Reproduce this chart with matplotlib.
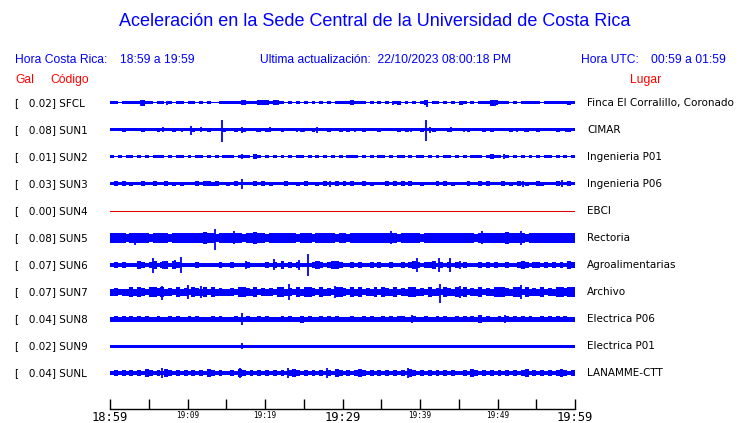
import numpy as np
import matplotlib
matplotlib.use('Agg')
from matplotlib import pyplot as plt
from matplotlib.transforms import blended_transform_factory

############# Data ############
codes = ['SFCL', 'SUN1', 'SUN2', 'SUN3', 'SUN4', 'SUN5',
         'SUN6', 'SUN7', 'SUN8', 'SUN9', 'SUNL']
gal = [0.02, 0.08, 0.01, 0.03, 0.00, 0.08, 0.07, 0.07, 0.04, 0.02, 0.04]
places = ['Finca El Corralillo, Coronado', 'CIMAR', 'Ingenieria P01',
          'Ingenieria P06', 'EBCI', 'Rectoria', 'Agroalimentarias',
          'Archivo', 'Electrica P06', 'Electrica P01', 'LANAMME-CTT']

# trace envelope, one hex digit per half minute,
# value = half thickness in half pixels
envelopes = [
    '3313333363 3133131331 3313131133 3333533355 5353313131 3131313133 '
    '3353331313 1313413131 3513313131 4313133365 3331313333 3133333343',
    '3334333343 3343334333 3433343334 3343433343 4333433334 3343334334 '
    '3433343334 3333434333 4334333433 3343334343 3334333433 4333343343',
    '3131331313 1333131331 3133131313 3313331531 3131313133 1313131313 '
    '1333131313 3131331313 3131313313 1313331353 3131313131 3133131313',
    '3535343353 3533534343 3353554533 4353333535 3433353343 5334353353 '
    '5353353433 3535353533 4333535343 3353353533 3534353433 5433353353',
    '',
    '9a9b899ba9 8ba9a89aab 9ab9c9a899 ba9a8a9caa 89aba9a98a ab8a9ab98a '
    'a89ab9ab9a 9bab89ba9a 8a9aab9a9b a9ba8aabba bacb9a989b a9ba9abba9',
    '4646454864 6846848644 4464544464 4654464444 6464846464 5468646886 '
    '4464644646 4464465686 4668464646 4644464646 4464468646 6464646486',
    '7867797a86 9a8a786978 6a87969787 7869a87968 786a978697 9a8697869a '
    '8697968796 a879687a97 869786a879 7968796879 9a879a6978 796879a8a9',
    '5656565656 5565565655 6565556565 5565565565 6555656557 5655656565 '
    '5565565655 6565665565 5655656556 5656585655 6565656565 5656565655',
    '3333333333 3333333333 3333333333 3333333333 3333333333 3333333333 '
    '3333333333 3333333333 3333333333 3333333333 3333333333 3333333333',
    '4646464648 6464864646 4646486464 4648646464 6464646864 6464646486 '
    '4646864646 4646464864 6464646464 4648646464 6464646846 4646468646',
]

# bursts: (minute, up, down) in pixels
bursts = [
    [(4.0, 3, 3), (7.3, 2, 2), (17.0, 2.5, 2.5), (20.0, 2.5, 2.5), (21.7, 2.5, 2.5),
     (31.4, 2.5, 2.5), (36.5, 2, 2), (40.9, 2, 4), (45.2, 2, 2), (49.7, 3, 3.5), (59.4, 2, 2)],
    [(4.3, 2, 2), (6.8, 2.5, 2.5), (9.3, 2, 2), (10.4, 4, 5), (11.8, 2.5, 2.5),
     (14.5, 10, 12), (17.0, 3, 3), (19.0, 2, 2), (20.6, 2.5, 2.5), (24.1, 2, 2),
     (25.0, 2, 2), (26.7, 3, 3), (31.6, 2, 2), (34.8, 2, 2), (38.4, 2, 2), (38.9, 2, 2),
     (40.8, 10, 11), (41.3, 3, 3), (44.0, 2.5, 2.5), (45.7, 2, 2), (49.3, 2, 2),
     (52.5, 2, 2), (53.6, 2, 2), (58.9, 2, 2)],
    [(17.0, 2.5, 2.5), (50.9, 2.5, 2.5)],
    [(17.0, 5, 5), (28.4, 3, 3), (53.3, 3, 3), (58.3, 3.5, 3.5)],
    [],
    [(3.2, 5.5, 7), (13.5, 8.7, 12), (16.0, 6.5, 6), (36.3, 6.5, 6), (48.0, 7, 6),
     (53.0, 7, 7)],
    [(5.6, 7, 8), (6.9, 4, 4), (8.4, 5, 4), (9.2, 8, 8), (17.6, 4, 4), (21.2, 6, 5),
     (24.4, 5, 5), (25.6, 11, 11), (27.0, 4, 4), (39.6, 7, 7), (42.4, 7, 7), (43.9, 7, 7),
     (45.2, 4, 4), (59.4, 4, 4)],
    [(6.7, 6, 8), (10.1, 7, 7), (11.8, 6, 6), (23.1, 8, 8), (29.0, 6, 6), (42.6, 8, 11),
     (45.2, 6, 6), (53.0, 7, 7), (58.5, 5, 5)],
    [(17.0, 6, 6), (39.0, 4, 4), (51.0, 4, 4)],
    [(17.0, 3, 3)],
    [(6.7, 5, 5), (16.8, 5, 5), (23.0, 5, 5), (28.0, 5, 5), (38.5, 5, 5)],
]

tick_minutes = [0, 5, 10, 15, 20, 25, 30, 35, 40, 45, 50, 55, 60]
tick_labels = ['18:59', '', '19:09', '', '19:19', '', '19:29', '', '19:39', '', '19:49', '', '19:59']
big_labels = ['18:59', '19:29', '19:59']

title = 'Aceleración en la Sede Central de la Universidad de Costa Rica'
update = '22/10/2023 08:00:18 PM'
hora_cr = '18:59 a 19:59'
hora_utc = '00:59 a 01:59'
########################################

W, H = 740, 423
BLUE = '#0000ff'
RED = '#ff0000'
ROW_PX = 27.0
SANS = 'Liberation Sans'
HFS = 8.7

fig = plt.figure(figsize=(W / 100, H / 100), dpi=100)
fig.patch.set_facecolor('white')

def fx(px):
    return px / W

def fy(px):
    return 1 - px / H

# header
fig.text(fx(375), fy(22), title, color=BLUE, fontsize=13.0, family=SANS, ha='center', va='center')
fig.text(fx(15), fy(60), 'Hora Costa Rica:', color=BLUE, fontsize=HFS, family=SANS, va='center')
fig.text(fx(120), fy(60), hora_cr, color=BLUE, fontsize=HFS, family=SANS, va='center')
fig.text(fx(260), fy(60), 'Ultima actualización:  ' + update, color=BLUE, fontsize=HFS, family=SANS, va='center')
fig.text(fx(581), fy(60), 'Hora UTC:', color=BLUE, fontsize=HFS, family=SANS, va='center')
fig.text(fx(651), fy(60), hora_utc, color=BLUE, fontsize=HFS, family=SANS, va='center')
fig.text(fx(15), fy(80), 'Gal', color=RED, fontsize=HFS, family=SANS, va='center')
fig.text(fx(50), fy(80), 'Código', color=RED, fontsize=HFS, family=SANS, va='center')
fig.text(fx(646), fy(80), 'Lugar', color=RED, fontsize=HFS, family=SANS, va='center', ha='center')

# traces
ax = fig.add_axes([fx(110), fy(386.5), fx(465), 297 / H])
ax.set_xlim(0, 60)
ax.set_ylim(len(codes) - 0.5, -0.5)
ax.axis('off')

trans = blended_transform_factory(fig.transFigure, ax.transData)
for i, code in enumerate(codes):
    env = envelopes[i].replace(' ', '')
    if env:
        v = np.array([int(c, 16) for c in env]) * 0.5 / ROW_PX
        edges = np.linspace(0, 60, len(v) + 1)
        xs = np.repeat(edges, 2)[1:-1]
        ys = np.repeat(v, 2)
        ax.fill_between(xs, i - ys, i + ys, color=BLUE, lw=0)
        bx = [m for m, u, d in bursts[i]]
        lo = [i + d / ROW_PX for m, u, d in bursts[i]]
        hi = [i - u / ROW_PX for m, u, d in bursts[i]]
        ax.vlines(bx, hi, lo, color=BLUE, lw=1.3)
    else:
        ax.plot([0, 60], [i, i], color='#e00000', lw=0.75)
    ax.text(fx(15), i, '[   %.2f] %s' % (gal[i], code), transform=trans,
            fontsize=7.5, family='DejaVu Sans', va='center')
    ax.text(fx(587), i, places[i], transform=trans,
            fontsize=7.5, family='DejaVu Sans', va='center')

# time axis
tax = fig.add_axes([fx(110), fy(409), fx(465), 0.02])
tax.set_xlim(0, 60)
tax.set_ylim(0, 1)
for s in ['top', 'left', 'right']:
    tax.spines[s].set_visible(False)
tax.spines['bottom'].set_linewidth(1.0)
tax.set_yticks([])
tax.set_xticks(tick_minutes)
tax.set_xticklabels(tick_labels, family='DejaVu Sans Mono')
tax.tick_params(axis='x', direction='in', length=7.2, width=1.0, pad=1.5)
for lab in tax.get_xticklabels():
    lab.set_fontsize(8.7 if lab.get_text() in big_labels else 5.5)
    lab.set_va('top')

fig.savefig('out.png', dpi=100)
